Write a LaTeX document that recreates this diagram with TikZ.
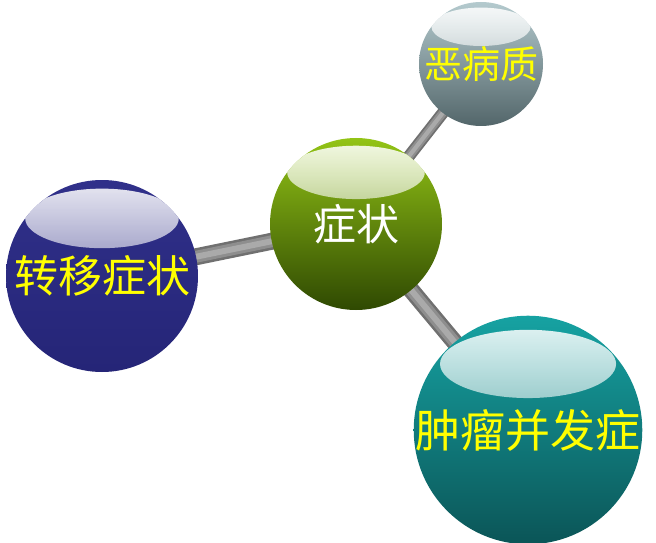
\documentclass[tikz,border=0pt]{standalone}
\usepackage{fontspec}
\newfontfamily\cjk{Noto Sans CJK SC}
\usetikzlibrary{fadings,backgrounds}

\definecolor{symtop}{HTML}{93C416}
\definecolor{symbot}{HTML}{2F4902}
\definecolor{cachtop}{HTML}{B4CACE}
\definecolor{cachbot}{HTML}{53666A}
\definecolor{metatop}{HTML}{30308A}
\definecolor{metabot}{HTML}{252577}
\definecolor{comptop}{HTML}{16A2A2}
\definecolor{compbot}{HTML}{0B5557}
\definecolor{labelyellow}{HTML}{FFFF00}
\definecolor{rodedge}{HTML}{707070}
\definecolor{rodmid}{HTML}{8E8E8E}
\definecolor{rodlight}{HTML}{AAAAAA}

\tikzfading[name=gloss, top color=transparent!10, bottom color=transparent!95]

\tikzset{
  sphere/.style n args={3}{circle, inner sep=0pt, minimum size=#1,
    top color=#2, bottom color=#3,
    path picture={\fill[white, path fading=gloss]
      ([yshift=0.3*#1]path picture bounding box.center)
      ellipse [x radius=0.4*#1, y radius=0.155*#1];}},
  rod/.style={draw=rodedge, line width=#1pt,
    postaction={draw=rodmid, line width=#1*0.7pt},
    postaction={draw=rodlight, line width=#1*0.35pt}},
  outerlabel/.style={text=labelyellow, font=\cjk\fontsize{#1}{#1}\selectfont}
}

\begin{document}
\begin{tikzpicture}[x=1pt,y=1pt]
  \useasboundingbox (0,0) rectangle (656,542);
  \node[sphere={172pt}{symtop}{symbot}, text=white, font=\cjk\fontsize{43}{43}\selectfont] (sym) at (356,318) {症状};
  \node[sphere={124pt}{cachtop}{cachbot}, outerlabel=38] (cach) at (481,478) {恶病质};
  \node[sphere={192pt}{metatop}{metabot}, outerlabel=44] (meta) at (102,266) {转移症状};
  \node[sphere={220pt}{comptop}{compbot}, outerlabel=45] (comp) at (528,112) {肿瘤并发症};
  \begin{scope}[on background layer]
    \draw[rod=12] (sym.center) -- (cach.center);
    \draw[rod=17] (sym.center) -- (meta.center);
    \draw[rod=17] (sym.center) -- (comp.center);
  \end{scope}
\end{tikzpicture}
\end{document}
